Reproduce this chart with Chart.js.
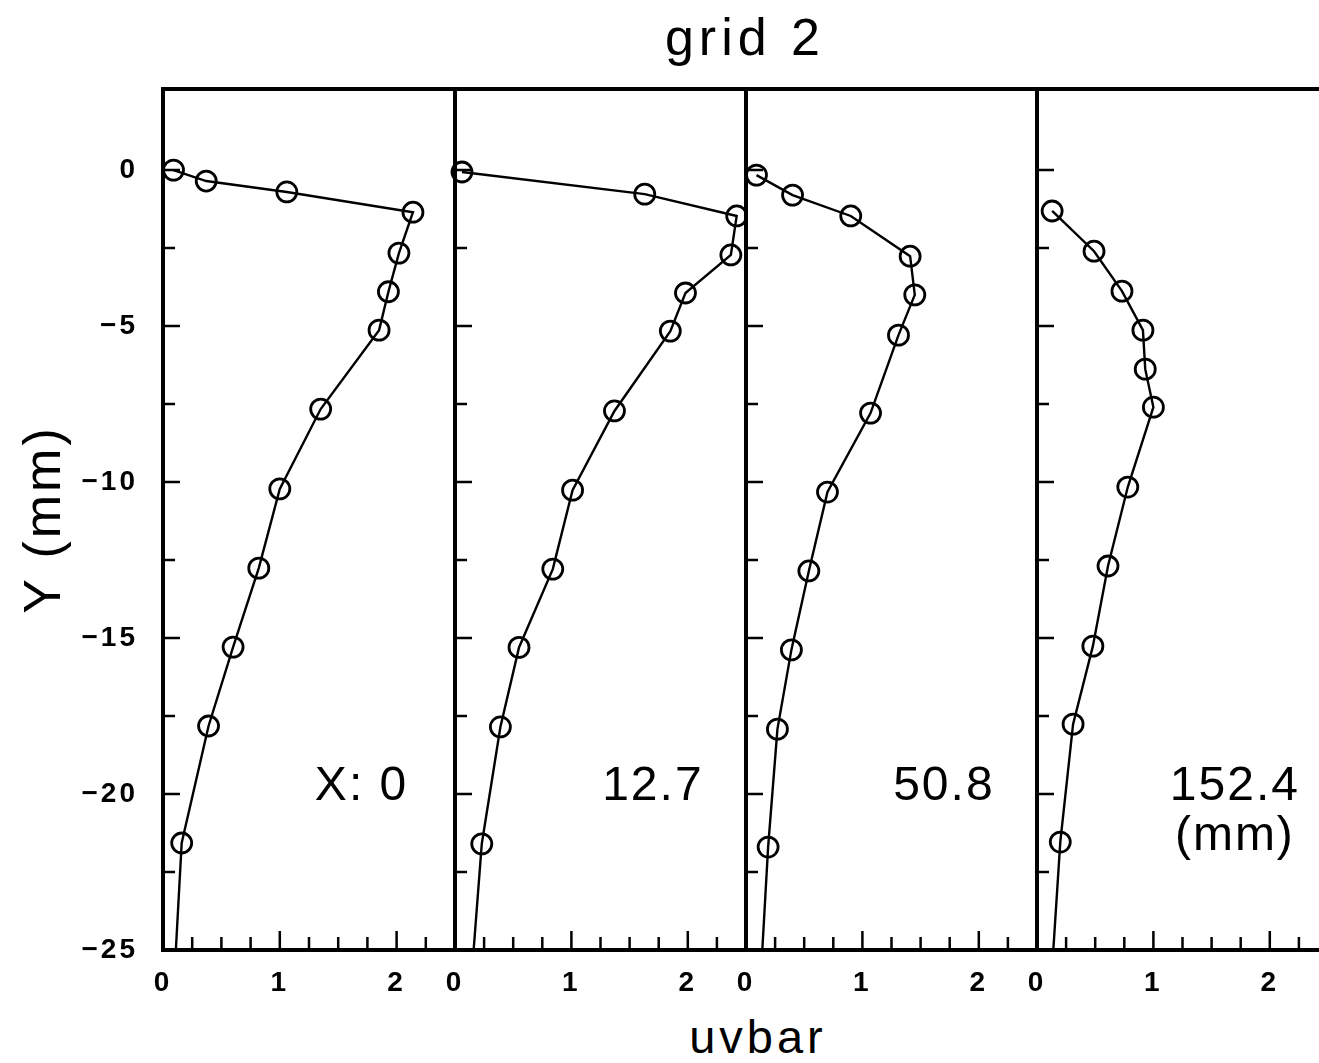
<!DOCTYPE html>
<html>
<head>
<meta charset="utf-8">
<title>grid 2</title>
<script src="https://cdn.jsdelivr.net/npm/chart.js@4.4.1/dist/chart.umd.min.js"></script>
<style>
  html, body { margin: 0; padding: 0; background: #fff; overflow: hidden; }
  #fig { position: relative; width: 1319px; height: 1063px; overflow: hidden;
         font-family: "Liberation Sans", Arial, sans-serif; color: #000; }
  #fig canvas { position: absolute; top: 60px; }
  .txt { position: absolute; text-align: center; white-space: nowrap; line-height: 1; }
  #title { left: 545px; width: 400px; top: 11px; font-size: 52px; letter-spacing: 5px; }
  #xtitle { left: 558px; width: 400px; top: 1013px; font-size: 47px; letter-spacing: 4px; }
</style>
</head>
<body>
<div id="fig">
  <div id="title" class="txt">grid 2</div>
  <canvas id="p0" width="475" height="950" style="left:0px"></canvas>
  <canvas id="p1" width="331" height="950" style="left:435px"></canvas>
  <canvas id="p2" width="331" height="950" style="left:726px"></canvas>
  <canvas id="p3" width="331" height="950" style="left:1017px"></canvas>
  <div id="xtitle" class="txt">uvbar</div>
</div>
<script>
// ─── Profiles: uvbar against depth Y (mm), one panel per station ───
// the last entry of each pair is where the curve meets the lower edge (no marker)

const uvbarX0 = [0.09, 0.37, 1.06, 2.14, 2.02, 1.93, 1.85, 1.35, 1.00, 0.82, 0.60, 0.39, 0.16, 0.11];
const depthX0 = [0, -0.35, -0.7, -1.35, -2.66, -3.9, -5.13, -7.66, -10.22, -12.76, -15.29, -17.82, -21.57, -25];

const uvbarX127 = [0.06, 1.63, 2.42, 2.37, 1.98, 1.85, 1.37, 1.01, 0.84, 0.55, 0.39, 0.23, 0.16];
const depthX127 = [-0.06, -0.77, -1.47, -2.72, -3.94, -5.16, -7.72, -10.26, -12.79, -15.3, -17.85, -21.6, -25];

const uvbarX508 = [0.09, 0.40, 0.90, 1.41, 1.45, 1.31, 1.07, 0.70, 0.54, 0.39, 0.27, 0.19, 0.14];
const depthX508 = [-0.16, -0.8, -1.47, -2.76, -4.0, -5.29, -7.79, -10.32, -12.85, -15.38, -17.92, -21.7, -25];

const uvbarX1524 = [0.13, 0.49, 0.73, 0.91, 0.93, 1.00, 0.78, 0.61, 0.48, 0.31, 0.20, 0.14];
const depthX1524 = [-1.31, -2.6, -3.88, -5.13, -6.38, -7.6, -10.16, -12.69, -15.26, -17.76, -21.54, -25];

const panelLabels = [['X: 0'], ['12.7'], ['50.8'], ['152.4', '(mm)']];
const xTickLabels = [0, 1, 2];
const yTickLabels = [0, -5, -10, -15, -20, -25];

const uvbars = [uvbarX0, uvbarX127, uvbarX508, uvbarX1524];
const depths = [depthX0, depthX127, depthX508, depthX1524];

const FONT = '"Liberation Sans", Arial, sans-serif';
const fmt = v => (v < 0 ? '\u2212' + Math.abs(v) : String(v));

// inward tick marks + top edge of each frame
const frameTicks = {
    id: 'frameTicks',
    beforeDatasetsDraw(chart) {
        const { ctx, chartArea: a, scales: { x, y } } = chart;
        ctx.save();
        ctx.strokeStyle = '#000';
        ctx.lineWidth = 2.5;
        ctx.beginPath();
        x.ticks.forEach(t => {
            if (t.value <= x.min || t.value >= x.max) return;
            const px = x.getPixelForValue(t.value);
            const len = Number.isInteger(t.value) ? 19 : 13;
            ctx.moveTo(px, a.bottom);
            ctx.lineTo(px, a.bottom - len);
        });
        y.ticks.forEach(t => {
            if (t.value <= y.min || t.value >= y.max) return;
            const q = t.value / 2.5;
            if (Math.abs(q - Math.round(q)) > 1e-6) return;
            const py = y.getPixelForValue(t.value);
            const len = Math.round(q) % 2 === 0 ? 17 : 12;
            ctx.moveTo(a.left, py);
            ctx.lineTo(a.left + len, py);
        });
        ctx.stroke();
        ctx.lineWidth = 4;
        ctx.beginPath();
        ctx.moveTo(a.left - 2, a.top);
        ctx.lineTo(a.right + 2, a.top);
        ctx.stroke();
        ctx.restore();
    }
};

// wider letter spacing for the axis text
const spacedText = {
    id: 'spacedText',
    beforeDraw(chart) { chart.ctx.letterSpacing = '3px'; },
    afterDraw(chart) { chart.ctx.letterSpacing = '0px'; }
};

// station name written inside the panel
const panelLabel = {
    id: 'panelLabel',
    afterDatasetsDraw(chart, args, opts) {
        const { ctx, scales: { x, y } } = chart;
        ctx.save();
        ctx.fillStyle = '#000';
        ctx.font = '48px ' + FONT;
        ctx.letterSpacing = '2px';
        ctx.textAlign = 'center';
        ctx.textBaseline = 'alphabetic';
        opts.lines.forEach((s, k) => {
            ctx.fillText(s, x.getPixelForValue(1.7), y.getPixelForValue(-20.2 - k * 1.6));
        });
        ctx.restore();
    }
};

function makePanel(i) {
    const first = i === 0;
    const n = uvbars[i].length;
    const tickFont = { family: FONT, size: 28, weight: 'bold' };

    return new Chart(document.getElementById('p' + i), {
        type: 'scatter',
        data: {
            datasets: [{
                data: uvbars[i].map((u, k) => ({ x: u, y: depths[i][k] })),
                showLine: true,
                borderColor: '#000',
                borderWidth: 2.4,
                tension: 0,
                pointStyle: 'circle',
                pointRadius: c => (c.dataIndex === n - 1 ? 0 : 10),
                pointBorderWidth: 2.8,
                pointBorderColor: '#000',
                pointBackgroundColor: 'rgba(0,0,0,0)',
                clip: false
            }]
        },
        options: {
            responsive: false,
            animation: false,
            events: [],
            layout: { padding: { left: first ? 0 : 20, right: 20, top: 29, bottom: 10 } },
            plugins: {
                legend: { display: false },
                tooltip: { enabled: false },
                panelLabel: { lines: panelLabels[i] }
            },
            scales: {
                x: {
                    type: 'linear',
                    min: 0,
                    max: 2.5,
                    afterFit: s => { s.height = 50; },
                    ticks: {
                        stepSize: 0.25,
                        autoSkip: false,
                        maxRotation: 0,
                        padding: 4,
                        color: '#000',
                        font: tickFont,
                        callback: v => (xTickLabels.includes(v) ? String(v) : '')
                    },
                    // tick marks themselves are drawn inward by frameTicks
                    grid: { display: false, drawTicks: true, tickLength: 12 },
                    border: { display: true, width: 4, color: '#000' }
                },
                y: {
                    type: 'linear',
                    min: -25,
                    max: 2.6,
                    afterFit: s => { s.width = first ? 163 : 0; },
                    ticks: {
                        display: first,
                        stepSize: 2.5,
                        autoSkip: false,
                        padding: 4,
                        color: '#000',
                        font: tickFont,
                        callback: v => (yTickLabels.includes(v) ? fmt(v) : '')
                    },
                    grid: { display: false, drawTicks: true, tickLength: 21 },
                    border: { display: true, width: 4, color: '#000' },
                    title: {
                        display: first,
                        text: 'Y (mm)',
                        color: '#000',
                        font: { family: FONT, size: 52 },
                        padding: { top: 14, bottom: 0 }
                    }
                }
            }
        },
        plugins: [frameTicks, spacedText, panelLabel]
    });
}

const charts = [0, 1, 2, 3].map(makePanel);
</script>
</body>
</html>
